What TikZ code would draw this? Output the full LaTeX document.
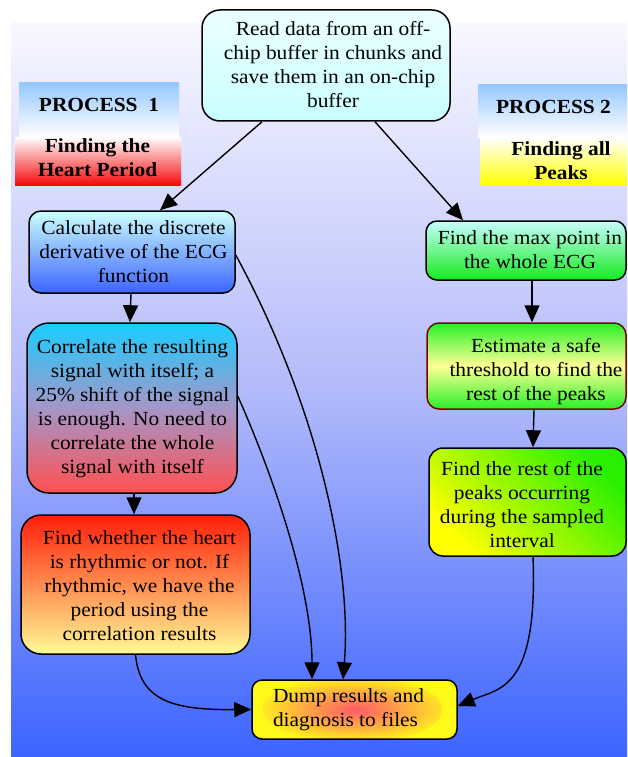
\documentclass[tikz,border=0pt]{standalone}
\usepackage{fontspec}
\setmainfont{Liberation Serif}[FakeStretch=1.07]
\usetikzlibrary{arrows.meta,calc}
\definecolor{bgtop}{RGB}{248,248,255}
\definecolor{bgmid}{RGB}{178,186,250}
\definecolor{bgbot}{RGB}{60,100,255}
\definecolor{topa}{RGB}{236,255,255}
\definecolor{topb}{RGB}{200,255,255}
\definecolor{pblue}{RGB}{150,200,255}
\definecolor{pred}{RGB}{245,10,10}
\definecolor{pyel}{RGB}{255,255,0}
\definecolor{calca}{RGB}{204,255,255}
\definecolor{calcb}{RGB}{60,100,255}
\definecolor{corra}{RGB}{25,205,255}
\definecolor{corrm}{RGB}{165,150,200}
\definecolor{corrb}{RGB}{255,80,80}
\definecolor{fwa}{RGB}{255,30,10}
\definecolor{fwb}{RGB}{255,250,150}
\definecolor{maxa}{RGB}{200,255,255}
\definecolor{maxb}{RGB}{20,235,30}
\definecolor{estg}{RGB}{40,240,40}
\definecolor{esty}{RGB}{255,255,150}
\definecolor{estborder}{RGB}{128,0,0}
\definecolor{resty}{RGB}{255,255,0}
\definecolor{restg}{RGB}{40,240,0}
\definecolor{dumpc}{RGB}{255,90,105}
\definecolor{dumpy}{RGB}{255,250,25}
\begin{document}
\begin{tikzpicture}[x=1pt,y=-1pt,
  font=\fontsize{20}{24}\selectfont,
  box/.style={draw=black, line width=1.5pt, rounded corners=#1, inner sep=0pt},
  box/.default=12pt,
  band/.style={inner sep=0pt},
  txt/.style={align=center, inner sep=0pt},
  arr/.style={line width=1.4pt, -{Triangle[length=17pt,width=15pt]}}]
\useasboundingbox (0,0) rectangle (627,757);
\shade[top color=bgtop, bottom color=bgbot, middle color=bgmid] (11,23) rectangle (627,757);

% header bands
\node[band, minimum width=160pt, minimum height=54pt, top color=pblue, bottom color=white] (p1a) at (99,110) {};
\node[band, minimum width=166pt, minimum height=48pt, top color=white, bottom color=pred] (p1b) at (98,161) {};
\node[txt, font=\fontsize{20}{24}\selectfont\bfseries] (p1at) at (99,105) {PROCESS\ \ 1};
\node[txt, font=\fontsize{20}{24}\selectfont\bfseries] (p1bt) at (97.5,158) {Finding the\\Heart Period};
\node[band, minimum width=149pt, minimum height=52pt, top color=pblue, bottom color=white] (p2a) at (552.5,111) {};
\node[band, minimum width=147pt, minimum height=48pt, top color=white, bottom color=pyel] (p2b) at (553.5,161) {};
\node[txt, font=\fontsize{20}{24}\selectfont\bfseries] (p2at) at (553.5,107) {PROCESS 2};
\node[txt, font=\fontsize{20}{24}\selectfont\bfseries] (p2bt) at (561,160.5) {Finding all\\Peaks};

% boxes
\node[box=18pt, minimum width=248pt, minimum height=111pt, top color=topa, bottom color=topb] (top) at (326,65.5) {};
\node[txt] (topt) at (333,65) {Read data from an off-\\chip buffer in chunks and\\save them in an on-chip\\buffer};

\node[box=12pt, minimum width=206pt, minimum height=82pt, top color=calca, bottom color=calcb] (calc) at (132,252) {};
\node[txt] (calct) at (133.5,252) {Calculate the discrete\\derivative of the ECG\\function};

\node[box=22pt, minimum width=210pt, minimum height=170pt, top color=corra, bottom color=corrb, middle color=corrm] (corr) at (132,408) {};
\node[txt] (corrt) at (132.5,408.5) {Correlate the resulting\\signal with itself; a\\25\% shift of the signal\\is enough. No need to\\correlate the whole\\signal with itself};

\node[box=20pt, minimum width=229pt, minimum height=139pt, top color=fwa, bottom color=fwb] (fw) at (135.5,584.5) {};
\node[txt] (fwt) at (139.5,586) {Find whether the heart\\is rhythmic or not. If\\rhythmic, we have the\\period using the\\correlation results};

\node[box=11pt, minimum width=200pt, minimum height=59pt, top color=maxa, bottom color=maxb] (maxn) at (526,250.5) {};
\node[txt] (maxt) at (530,250) {Find the max point in\\the whole ECG};

\node[box=12pt, draw=estborder, minimum width=199pt, minimum height=86pt, top color=estg, bottom color=estg, middle color=esty] (est) at (526.5,366) {};
\node[txt] (estt) at (536,372) {Estimate a safe\\threshold to find the\\rest of the peaks};

\node[box=14pt, minimum width=197pt, minimum height=108pt, bottom color=resty, top color=restg, shading angle=-45] (rest) at (527.5,502) {};
\node[txt] (restt) at (522,505) {Find the rest of the\\peaks occurring\\during the sampled\\interval};

\node[box=10pt, minimum width=205pt, minimum height=59pt, fill=dumpy,
  path picture={\shade[inner color=dumpc, outer color=dumpy] ([xshift=-2pt]path picture bounding box.center) ellipse (90pt and 34pt);}] (dump) at (354.5,709.5) {};
\node[txt, align=left] (dumpt) at (348.5,709.5) {Dump results and\\diagnosis to files};

% connectors
\draw[arr] ([xshift=-64pt]top.south) -- ([xshift=28pt]calc.north);
\draw[arr] ([xshift=49pt]top.south) -- ([xshift=-63pt]maxn.north);
\draw[arr] ([xshift=-1pt]calc.south) -- ([xshift=-2pt]corr.north);
\draw[arr] ([xshift=2pt]corr.south) -- ([xshift=-1.5pt]fw.north);
\draw[arr] ([xshift=6pt]maxn.south) -- ([xshift=5.5pt]est.north);
\draw[arr] ([xshift=7.5pt]est.south) -- ([xshift=5.5pt]rest.north);
\draw[arr] ([yshift=-3pt]calc.east) .. controls (320,410) and (352,570) .. ([xshift=-11.5pt]dump.north);
\draw[arr] ([yshift=12pt]corr.east) .. controls (275,480) and (312,590) .. ([xshift=-42.5pt]dump.north);
\draw[arr] (fw.south) .. controls (140,702) and (175,710) .. (dump.west);
\draw[arr] ([xshift=5.5pt]rest.south) .. controls (538,690) and (500,688) .. ([yshift=3.5pt]dump.east);
\end{tikzpicture}
\end{document}
